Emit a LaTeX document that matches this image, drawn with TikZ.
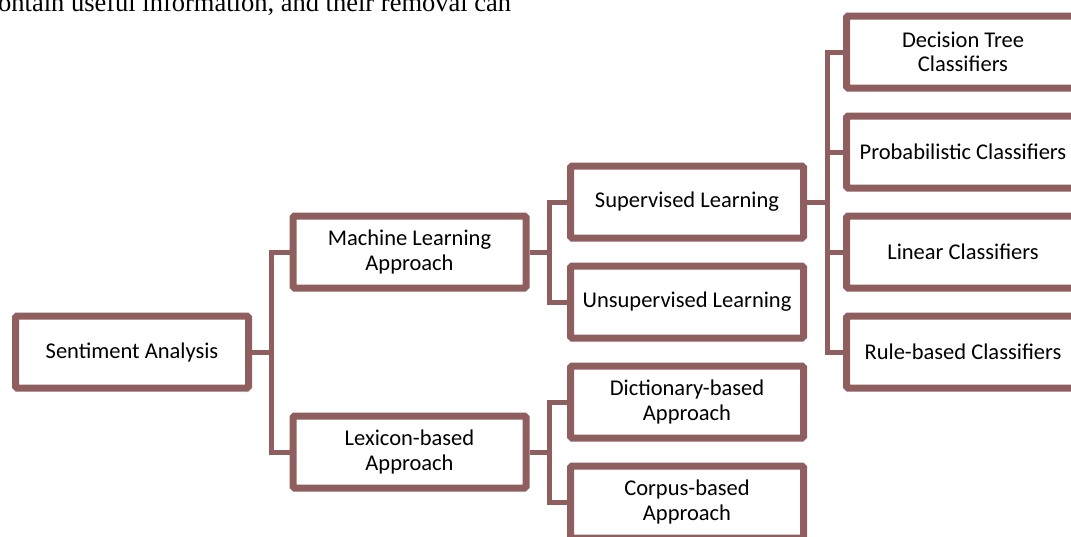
\documentclass[tikz,border=0pt]{standalone}
\usepackage{fontspec}
\setmainfont{Carlito}
\newfontfamily\timesfont{Liberation Serif}
\definecolor{boxbrown}{RGB}{143,94,94}
\begin{document}
\begin{tikzpicture}[x=1pt,y=-1pt,
  box/.style={draw=boxbrown,line width=7pt,fill=white,rounded corners=1.5pt,
    minimum width=233pt,minimum height=72pt,inner sep=0pt,align=center,
    font=\fontsize{22.5}{24.5}\selectfont,text=black},
  link/.style={draw=boxbrown,line width=5pt}]
\useasboundingbox (0,0) rectangle (1071,536);
\clip (0,0) rectangle (1071,536);
\fill[white] (0,0) rectangle (1071,536);
\node[anchor=base west,font=\timesfont\fontsize{26.5}{28}\selectfont,inner sep=0pt] (top) at (-2,11) {ontain useful information, and their removal can};
% nodes
\node[box] (sa) at (132,352) {Sentiment Analysis};
\node[box] (ml) at (409.5,252) {Machine Learning\\Approach};
\node[box] (lex) at (409.5,452) {Lexicon-based\\Approach};
\node[box] (sup) at (687,202) {Supervised Learning};
\node[box] (uns) at (687,302) {Unsupervised Learning};
\node[box] (dic) at (687,402) {Dictionary-based\\Approach};
\node[box] (cor) at (687,502) {Corpus-based\\Approach};
\node[box] (dt) at (963,52) {Decision Tree\\Classifiers};
\node[box] (pro) at (963,152) {Probabilistic Classifiers};
\node[box] (lin) at (963,252) {Linear Classifiers};
\node[box] (rul) at (963,352) {Rule-based Classifiers};
% trunk points
\coordinate (t1) at (271,352);
\coordinate (t2) at (549,252);
\coordinate (t3) at (549,452);
\coordinate (t4) at (827,202);
% connectors
\path[link] (sa.east) -- (t1);
\path[link] (ml.west) -| (t1) |- (lex.west);
\path[link] (ml.east) -- (t2);
\path[link] (sup.west) -| (t2) |- (uns.west);
\path[link] (lex.east) -- (t3);
\path[link] (dic.west) -| (t3) |- (cor.west);
\path[link] (sup.east) -- (t4);
\path[link] (dt.west) -| (t4) |- (rul.west);
\path[link] (pro.west) -| (t4);
\path[link] (lin.west) -| (t4);
\end{tikzpicture}
\end{document}
